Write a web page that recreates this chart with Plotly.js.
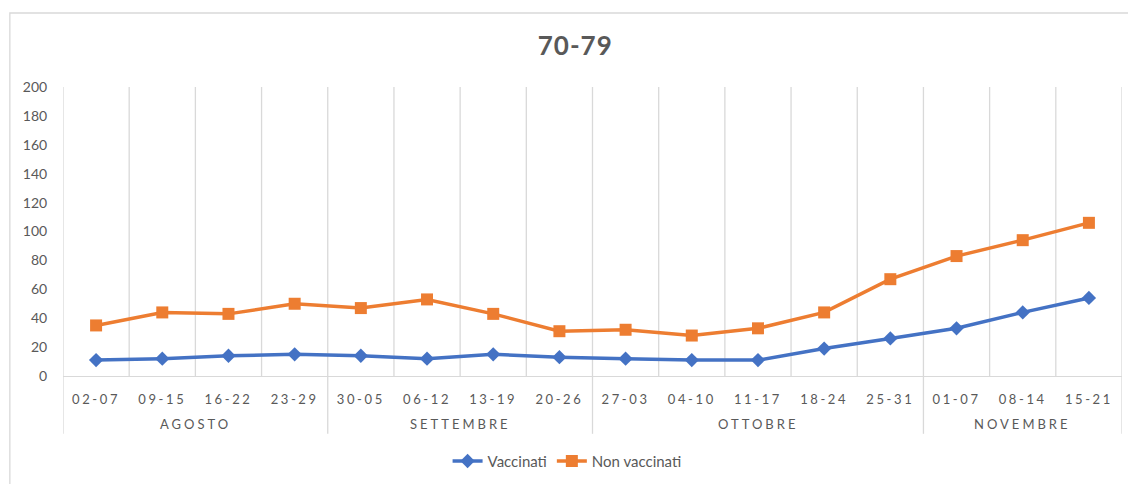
<!DOCTYPE html>
<html>
<head>
<meta charset="utf-8">
<script src="https://cdn.plot.ly/plotly-3.0.1.min.js"></script>
<style>html,body{margin:0;padding:0;background:#fff;}#chart{width:1128px;height:484px;}</style>
</head>
<body>
<div id="chart"></div>
<script>
const chartTitle = "70-79";
const weeks = ["02-07","09-15","16-22","23-29","30-05","06-12","13-19","20-26","27-03","04-10","11-17","18-24","25-31","01-07","08-14","15-21"];
const months = ["AGOSTO","SETTEMBRE","OTTOBRE","NOVEMBRE"];
const monthWeekCounts = [4, 4, 5, 3];
const vaccinati = [11, 12, 14, 15, 14, 12, 15, 13, 12, 11, 11, 19, 26, 33, 44, 54];
const nonVaccinati = [35, 44, 43, 50, 47, 53, 43, 31, 32, 28, 33, 44, 67, 83, 94, 106];
const yTicks = [0, 20, 40, 60, 80, 100, 120, 140, 160, 180, 200];

const FONT = "Lato, 'Open Sans', sans-serif";
const GREY = "#595959";
const LINEC = "#d9d9d9";
const spaced = (s, px) => '<span style="letter-spacing:' + px + 'px">' + s + '</span>';

const idx = weeks.map((_, i) => i);

const traces = [
  {x: idx, y: vaccinati, name: "Vaccinati", type: "scatter", mode: "lines+markers",
   line: {color: "#4472C4", width: 3.5}, marker: {symbol: "diamond", size: 11, color: "#4472C4"}},
  {x: idx, y: nonVaccinati, name: "Non vaccinati", type: "scatter", mode: "lines+markers",
   line: {color: "#ED7D31", width: 3.5}, marker: {symbol: "square", size: 12, color: "#ED7D31"}}
];

const shapes = [];
const annotations = [];
for (let i = 0; i <= weeks.length; i++) {
  shapes.push({type: "line", xref: "x", yref: "paper", x0: i - 0.5, x1: i - 0.5, y0: 0, y1: 1,
    line: {color: LINEC, width: 1.3}, layer: "below"});
}
let start = 0;
const boundaries = [-0.5];
months.forEach((m, k) => {
  const end = start + monthWeekCounts[k];
  boundaries.push(end - 0.5);
  annotations.push({xref: "x", yref: "paper", x: (start + end - 1) / 2, y: -0.167,
    text: spaced(m, 3), showarrow: false, xanchor: "center", yanchor: "middle",
    font: {family: FONT, size: 13, color: GREY}});
  start = end;
});
boundaries.forEach(b => {
  shapes.push({type: "line", xref: "x", yref: "paper", x0: b, x1: b, y0: 0, y1: -0.2,
    line: {color: LINEC, width: 1.3}});
});
shapes.push({type: "rect", xref: "paper", yref: "paper", x0: -0.0502, x1: 1.02, y0: -0.4, y1: 1.256,
  line: {color: LINEC, width: 1.3}, fillcolor: "rgba(0,0,0,0)"});

const layout = {
  width: 1128, height: 484,
  margin: {l: 63, r: 6, t: 87, b: 104},
  paper_bgcolor: "#fff", plot_bgcolor: "#fff",
  title: {text: "<b>" + spaced(chartTitle, 1) + "</b>", x: 0.51, xanchor: "center", y: 0.905, yanchor: "middle",
    font: {family: FONT, size: 26, color: GREY}},
  xaxis: {type: "linear", range: [-0.5, weeks.length - 0.5], tickvals: idx,
    ticktext: weeks.map(w => spaced(w, 2.6)), showgrid: false, zeroline: false,
    showline: true, linecolor: LINEC, linewidth: 1.3, ticks: "outside", ticklen: 11,
    tickcolor: "rgba(0,0,0,0)",
    tickfont: {family: FONT, size: 13, color: GREY}, fixedrange: true},
  yaxis: {range: [0, 200], tickvals: yTicks, showgrid: false, zeroline: false, showline: false,
    ticks: "outside", ticklen: 12, tickcolor: "rgba(0,0,0,0)",
    tickfont: {family: FONT, size: 14, color: GREY}, fixedrange: true},
  showlegend: true,
  legend: {orientation: "h", x: 0.476, xanchor: "center", y: -0.295, yanchor: "middle",
    font: {family: FONT, size: 15, color: GREY}, bgcolor: "rgba(0,0,0,0)"},
  shapes: shapes,
  annotations: annotations
};

Plotly.newPlot("chart", traces, layout, {displayModeBar: false, staticPlot: true});
</script>
</body>
</html>
